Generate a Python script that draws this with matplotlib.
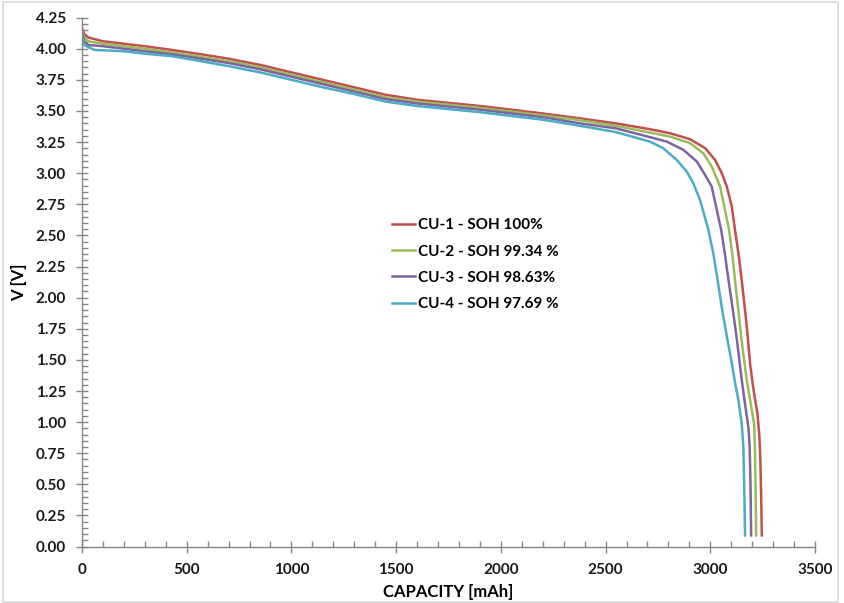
import matplotlib
matplotlib.use("Agg")
import matplotlib.pyplot as plt
from matplotlib.ticker import MultipleLocator, FormatStrFormatter
from matplotlib.patches import Rectangle

plt.rcParams['font.family'] = ['Lato', 'DejaVu Sans']
plt.rcParams['font.weight'] = 'bold'

# ---- data (capacity in mAh, voltage in V) ----
cap_cu1 = [0, 10, 30, 100, 200, 300, 430, 550, 700, 850, 1000, 1150, 1300, 1450, 1600,
           1750, 1900, 2050, 2200, 2380, 2550, 2713, 2808, 2904, 2976, 3023, 3055,
           3079, 3103, 3118, 3135, 3150, 3166, 3178, 3190, 3203, 3214, 3225, 3234,
           3239, 3243, 3246]
v_cu1 = [4.17, 4.12, 4.09, 4.06, 4.04, 4.02, 3.99, 3.96, 3.92, 3.87, 3.81, 3.75, 3.69, 3.63, 3.59,
         3.565, 3.54, 3.51, 3.48, 3.44, 3.40, 3.353, 3.321, 3.273, 3.200, 3.106, 3.00,
         2.892, 2.731, 2.544, 2.35, 2.14, 1.90, 1.70, 1.47, 1.30, 1.18, 1.07, 0.90,
         0.70, 0.40, 0.09]

cap_cu2 = [0, 10, 30, 100, 200, 300, 430, 550, 700, 850, 1000, 1150, 1300, 1450, 1600,
           1750, 1900, 2050, 2200, 2380, 2550, 2713, 2808, 2904, 2967, 3007, 3047,
           3090, 3105, 3118, 3134, 3150, 3174, 3190, 3200, 3209, 3213, 3216, 3219]
v_cu2 = [4.15, 4.09, 4.06, 4.04, 4.02, 4.00, 3.97, 3.94, 3.90, 3.85, 3.79, 3.73, 3.67, 3.61, 3.575,
         3.55, 3.525, 3.495, 3.465, 3.425, 3.38, 3.326, 3.294, 3.241, 3.160, 3.053, 2.892,
         2.544, 2.35, 2.14, 1.90, 1.65, 1.34, 1.18, 1.08, 0.99, 0.80, 0.50, 0.09]

cap_cu3 = [0, 10, 30, 100, 200, 300, 430, 550, 700, 850, 1000, 1150, 1300, 1450, 1600,
           1750, 1900, 2050, 2200, 2380, 2550, 2713, 2792, 2872, 2936, 2975, 3007,
           3052, 3070, 3087, 3108, 3128, 3150, 3168, 3182, 3188, 3192, 3195]
v_cu3 = [4.13, 4.06, 4.03, 4.02, 4.00, 3.98, 3.955, 3.925, 3.885, 3.835, 3.775, 3.715, 3.655, 3.595, 3.56,
         3.535, 3.51, 3.48, 3.45, 3.40, 3.36, 3.289, 3.254, 3.187, 3.093, 2.986, 2.892,
         2.544, 2.35, 2.14, 1.90, 1.65, 1.34, 1.12, 0.96, 0.80, 0.50, 0.09]

cap_cu4 = [0, 10, 60, 200, 300, 430, 550, 700, 850, 1000, 1150, 1300, 1450, 1600,
           1750, 1900, 2050, 2200, 2380, 2550, 2713, 2776, 2840, 2888, 2919, 2951,
           2991, 3015, 3035, 3057, 3080, 3103, 3120, 3134, 3150, 3158, 3163, 3166]
v_cu4 = [4.10, 4.03, 3.99, 3.98, 3.96, 3.94, 3.905, 3.86, 3.81, 3.75, 3.69, 3.635, 3.575, 3.54,
         3.515, 3.49, 3.46, 3.43, 3.38, 3.33, 3.253, 3.20, 3.106, 3.012, 2.919, 2.785,
         2.544, 2.35, 2.14, 1.90, 1.68, 1.47, 1.30, 1.18, 0.99, 0.80, 0.40, 0.09]

labels = ['CU-1 - SOH 100%', 'CU-2 - SOH 99.34 %', 'CU-3 - SOH 98.63%', 'CU-4 - SOH 97.69 %']
colors = ['#C0504D', '#9BBB59', '#8064A2', '#4BACC6']

fig = plt.figure(figsize=(8.45, 6.03), dpi=100)
# thin grey frame around the whole chart
fig.patches.append(Rectangle((0.003, 0.002), 0.989, 0.994, transform=fig.transFigure,
                             fill=False, edgecolor='#D9D9D9', linewidth=1.2))

ax = fig.add_axes([82 / 845, 1 - 546.6 / 603, 733 / 845, 529 / 603])

series = [(cap_cu1, v_cu1), (cap_cu2, v_cu2), (cap_cu3, v_cu3), (cap_cu4, v_cu4)]
for (c, v), lab, col in zip(series, labels, colors):
    ax.plot(c, v, color=col, linewidth=1.8, label=lab, solid_joinstyle='round')

ax.set_xlim(0, 3500)
ax.set_ylim(0, 4.25)
ax.xaxis.set_major_locator(MultipleLocator(500))
ax.xaxis.set_minor_locator(MultipleLocator(100))
ax.yaxis.set_major_locator(MultipleLocator(0.25))
ax.yaxis.set_minor_locator(MultipleLocator(0.05))
ax.yaxis.set_major_formatter(FormatStrFormatter('%.2f'))

for side in ['top', 'right']:
    ax.spines[side].set_visible(False)
for side in ['left', 'bottom']:
    ax.spines[side].set_color('#868686')
    ax.spines[side].set_linewidth(1.0)

ax.tick_params(which='major', direction='inout', length=9, width=1, color='#868686',
               labelsize=11, labelcolor='#1a1a1a', pad=7)
ax.tick_params(which='minor', direction='in', length=4, width=1, color='#868686')

ax.set_xlabel('CAPACITY [mAh]', fontsize=12, fontweight='bold', labelpad=5)
ax.set_ylabel('V [V]', fontsize=12, fontweight='bold', labelpad=6)

ax.legend(loc='upper left', bbox_to_anchor=(0.415, 0.632), frameon=False,
          fontsize=11, handlelength=1.5, handletextpad=0.2, labelspacing=0.8,
          borderaxespad=0)

fig.savefig('out.png', dpi=100)
